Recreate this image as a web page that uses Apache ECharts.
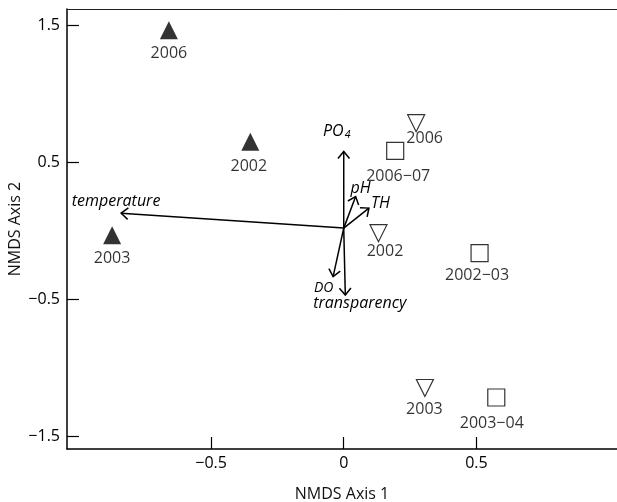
<!DOCTYPE html>
<html>
<head>
<meta charset="utf-8">
<script src="https://cdn.jsdelivr.net/npm/echarts@6/dist/echarts.min.js"></script>
<style>
html,body{margin:0;padding:0;background:#fff;}
#chart{width:617px;height:502px;}
</style>
</head>
<body>
<div id="chart"></div>
<script>
// ---- data ----
const filledNames = ['2006', '2002', '2003'];
const filledX = [-0.659, -0.352, -0.873];
const filledY = [1.462, 0.648, -0.034];

const openTriNames = ['2006', '2002', '2003'];
const openTriX = [0.273, 0.131, 0.306];
const openTriY = [0.784, -0.019, -1.149];

const squareNames = ['2006−07', '2002−03', '2003−04'];
const squareX = [0.194, 0.512, 0.575];
const squareY = [0.581, -0.164, -1.218];

const vectorNames = ['PO4', 'pH', 'TH', 'DO', 'transparency', 'temperature'];
const vectorX = [0.000, 0.045, 0.095, -0.040, 0.006, -0.839];
const vectorY = [0.577, 0.248, 0.164, -0.336, -0.470, 0.127];
const vectorOrigin = [0, 0.018];

const xTicks = [-0.5, 0, 0.5];
const yTicks = [-1.5, -0.5, 0.5, 1.5];

// ---- style (label placement in pixels) ----
const filledLabelOffsets = [[0, 23], [-1.5, 24.5], [0, 23.5]];
const openTriLabelOffsets = [[8.5, 15.5], [6.5, 18.5], [-0.5, 21]];
const squareLabelOffsets = [[3, 25.5], [-2.5, 22], [-4.5, 26]];
const vectorLabelStyle = {
  'PO4': {dx: -7, dy: -20, size: 16},
  'pH': {dx: 5, dy: -8, size: 16},
  'TH': {dx: 11.5, dy: -5, size: 16},
  'DO': {dx: -9.5, dy: 11.5, size: 14},
  'transparency': {dx: 14.5, dy: 8.5, size: 16},
  'temperature': {dx: -5, dy: -12, size: 16}
};

const FONT = '"Open Sans", Lato, sans-serif';

function pts(xs, ys, names, offsets) {
  return xs.map((x, i) => ({
    value: [x, ys[i]],
    name: names[i],
    label: {offset: offsets[i]}
  }));
}

const labelBase = {
  show: true,
  position: 'inside',
  formatter: p => p.name,
  color: '#000',
  fontSize: 16,
  fontFamily: FONT
};

function fmt(v) {
  if (v === 0) return '0';
  return (v < 0 ? '−' : '') + Math.abs(v);
}

const chart = echarts.init(document.getElementById('chart'), null, {renderer: 'canvas'});

const option = {
  animation: false,
  backgroundColor: '#fff',
  grid: {left: 67, right: 0, top: 9, bottom: 53, containLabel: false, outerBoundsMode: 'none'},
  xAxis: [{
    type: 'value',
    min: -1.043, max: 1.03,
    name: 'NMDS Axis 1',
    nameLocation: 'middle',
    nameGap: 37,
    nameTextStyle: {fontSize: 16, color: '#111', fontFamily: FONT},
    axisLine: {show: true, onZero: false, lineStyle: {color: '#000', width: 1.5}},
    axisTick: {show: true, inside: true, length: 12, customValues: xTicks, lineStyle: {color: '#000', width: 1.2}},
    axisLabel: {show: true, customValues: xTicks, formatter: fmt, margin: 6, fontSize: 16, color: '#000', fontFamily: FONT},
    splitLine: {show: false}
  }, {
    type: 'value',
    position: 'top',
    min: -1.043, max: 1.03,
    axisLine: {show: true, onZero: false, lineStyle: {color: '#222', width: 1}},
    axisTick: {show: false},
    axisLabel: {show: false},
    splitLine: {show: false}
  }],
  yAxis: {
    type: 'value',
    min: -1.594, max: 1.617,
    name: 'NMDS Axis 2',
    nameLocation: 'middle',
    nameGap: 44,
    nameMoveOverlap: false,
    nameTextStyle: {fontSize: 16, color: '#111', fontFamily: FONT},
    axisLine: {show: true, onZero: false, lineStyle: {color: '#000', width: 1.5}},
    axisTick: {show: true, inside: true, length: 12, customValues: yTicks, lineStyle: {color: '#000', width: 1.2}},
    axisLabel: {show: true, customValues: yTicks, formatter: fmt, margin: 7, fontSize: 16, color: '#000', fontFamily: FONT},
    splitLine: {show: false}
  },
  series: [
    {
      type: 'custom',
      coordinateSystem: 'cartesian2d',
      data: vectorNames.map((n, i) => [vectorX[i], vectorY[i], n]),
      encode: {x: 0, y: 1},
      renderItem: function (params, api) {
        const o = api.coord(vectorOrigin);
        const t = api.coord([api.value(0), api.value(1)]);
        const name = vectorNames[params.dataIndex];
        const ang = Math.atan2(t[1] - o[1], t[0] - o[0]);
        const hl = 9, ha = 40 * Math.PI / 180;
        const a1 = [t[0] - hl * Math.cos(ang - ha), t[1] - hl * Math.sin(ang - ha)];
        const a2 = [t[0] - hl * Math.cos(ang + ha), t[1] - hl * Math.sin(ang + ha)];
        const ls = vectorLabelStyle[name];
        let text = name, rich = undefined;
        if (name === 'PO4') {
          text = '{m|PO}{s|4}';
          rich = {
            m: {fontSize: ls.size, fontStyle: 'italic', fontFamily: FONT, fill: '#000'},
            s: {fontSize: 10.5, fontStyle: 'italic', fontFamily: FONT, fill: '#000', padding: [7, 0, 0, 1]}
          };
        }
        return {
          type: 'group',
          children: [
            {type: 'line', shape: {x1: o[0], y1: o[1], x2: t[0], y2: t[1]},
              style: {stroke: '#000', lineWidth: 1.5}},
            {type: 'polyline', shape: {points: [a1, t, a2]},
              style: {stroke: '#000', lineWidth: 1.5, fill: null}},
            {type: 'text', x: t[0] + ls.dx, y: t[1] + ls.dy,
              style: {text: text, rich: rich, fontSize: ls.size, fontStyle: 'italic',
                fontFamily: FONT, fill: '#000', align: 'center', verticalAlign: 'middle'}}
          ]
        };
      },
      z: 3
    },
    {
      type: 'scatter',
      symbol: 'triangle',
      symbolSize: [18, 18],
      itemStyle: {color: '#000'},
      label: labelBase,
      data: pts(filledX, filledY, filledNames, filledLabelOffsets),
      z: 4
    },
    {
      type: 'scatter',
      symbol: 'triangle',
      symbolRotate: 180,
      symbolSize: [17, 17],
      itemStyle: {color: '#fff', borderColor: '#000', borderWidth: 1.2},
      label: labelBase,
      data: pts(openTriX, openTriY, openTriNames, openTriLabelOffsets),
      z: 4
    },
    {
      type: 'scatter',
      symbol: 'rect',
      symbolSize: [17, 17],
      itemStyle: {color: '#fff', borderColor: '#000', borderWidth: 1.2},
      label: labelBase,
      data: pts(squareX, squareY, squareNames, squareLabelOffsets),
      z: 4
    }
  ]
};
chart.setOption(option);
</script>
</body>
</html>
